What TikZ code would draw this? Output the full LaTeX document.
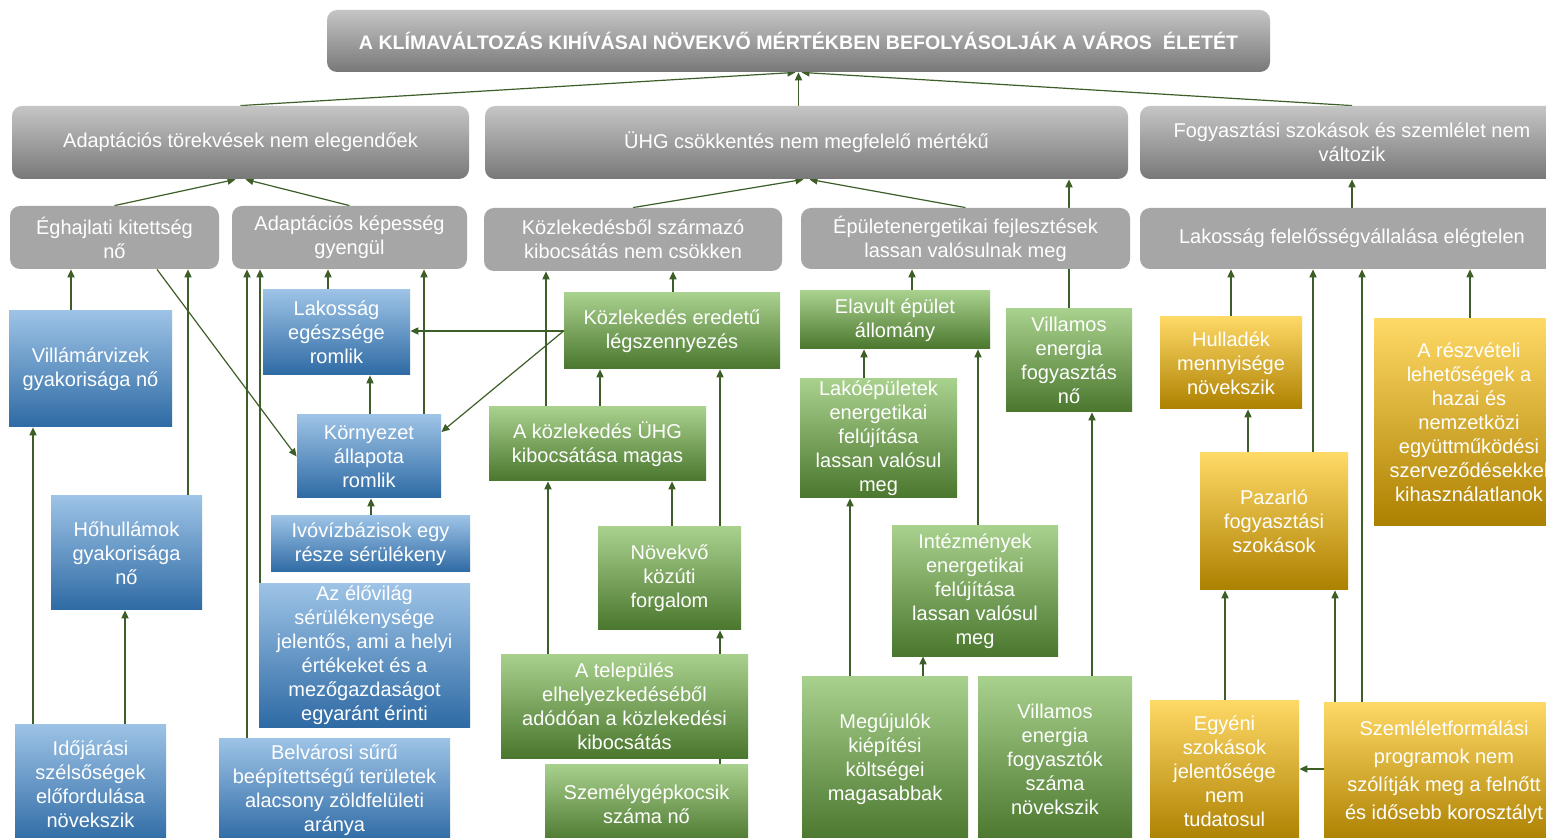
\documentclass[tikz,border=0pt]{standalone}
\usepackage{fontspec}
\setmainfont{Liberation Sans}
\usetikzlibrary{arrows.meta}

\definecolor{arrowGreen}{RGB}{62,94,40}
\definecolor{grayTop}{RGB}{197,197,197}
\definecolor{grayBot}{RGB}{120,120,120}
\definecolor{grayFlat}{RGB}{166,166,166}
\definecolor{blueTop}{RGB}{157,195,230}
\definecolor{blueMid}{RGB}{91,155,213}
\definecolor{blueBot}{RGB}{46,106,164}
\definecolor{greenTop}{RGB}{169,209,142}
\definecolor{greenMid}{RGB}{112,173,71}
\definecolor{greenBot}{RGB}{74,118,45}
\definecolor{yellowTop}{RGB}{255,217,102}
\definecolor{yellowMid}{RGB}{255,192,0}
\definecolor{yellowBot}{RGB}{172,128,0}

\pgfdeclarelayer{background}
\pgfsetlayers{background,main}

\tikzset{
  % area={x1}{y1}{x2}{y2}: box spanning these two corners
  area/.style n args={4}{at={({(#1+#3)/2},{(#2+#4)/2})},
    minimum width={(#3-#1)*0.5pt}, minimum height={(#4-#2)*0.5pt}},
  box/.style={inner sep=0pt, text=white, align=center, font=\fontsize{10}{12}\selectfont},
  titleBox/.style={box, rounded corners=5pt, top color=grayTop, bottom color=grayBot,
    font=\fontsize{9.8}{12}\selectfont\bfseries},
  mainBox/.style={box, rounded corners=5pt, top color=grayTop, bottom color=grayBot},
  subBox/.style={box, rounded corners=5pt, fill=grayFlat},
  blueBox/.style={box, top color=blueTop, middle color=blueMid, bottom color=blueBot},
  greenBox/.style={box, top color=greenTop, middle color=greenMid, bottom color=greenBot},
  yellowBox/.style={box, top color=yellowTop, middle color=yellowMid, bottom color=yellowBot},
  arr/.style={draw=arrowGreen, line width=0.6pt,
    -{Triangle[length=4pt,width=3.6pt,fill=arrowGreen]}},
}

\begin{document}
\begin{tikzpicture}[x=0.5pt,y=-0.5pt]
\clip (0,0) rectangle (1546,838);

% top of the tree
\node[titleBox, area={327}{10}{1270}{72}] (title)
  {A KLÍMAVÁLTOZÁS KIHÍVÁSAI NÖVEKVŐ MÉRTÉKBEN BEFOLYÁSOLJÁK A VÁROS\ \ ÉLETÉT};

% main causes
\node[mainBox, area={12}{106}{469}{179}] (a1) {Adaptációs törekvések nem elegendőek};
\node[mainBox, area={485}{106}{1128}{179}] (a2) {ÜHG csökkentés nem megfelelő mértékű};
\node[mainBox, area={1140}{106}{1564}{179}] (a3) {Fogyasztási szokások és szemlélet nem\\változik};

% second level
\node[subBox, area={10}{206}{219}{269}] (eghajl) {Éghajlati kitettség\\nő};
\node[subBox, area={232}{206}{467}{269}] (adkep) {Adaptációs képesség\\gyengül};
\node[subBox, area={484}{208}{782}{271}] (kozl) {Közlekedésből származó\\kibocsátás nem csökken};
\node[subBox, area={801}{208}{1130}{269}] (epulet) {Épületenergetikai fejlesztések\\lassan valósulnak meg};
\node[subBox, area={1140}{208}{1564}{269}] (lakfel) {Lakosság felelősségvállalása elégtelen};

% adaptation branch
\node[blueBox, area={9}{311}{172}{427}] (villam) {Villámárvizek\\gyakorisága nő};
\node[blueBox, area={51}{496}{202}{610}] (hohull) {Hőhullámok\\gyakorisága\\nő};
\node[blueBox, area={15}{724}{166}{844}] (idojar) {Időjárási\\szélsőségek\\előfordulása\\növekszik};
\node[blueBox, area={263}{290}{410}{375}] (lakeg) {Lakosság\\egészsége\\romlik};
\node[blueBox, area={297}{415}{441}{498}] (kornyez) {Környezet\\állapota\\romlik};
\node[blueBox, area={271}{516}{470}{572}] (ivoviz) {Ivóvízbázisok egy\\része sérülékeny};
\node[blueBox, area={259}{584}{470}{727}] (elovilag)
  {Az élővilág\\sérülékenysége\\jelentős, ami a helyi\\értékeket és a\\mezőgazdaságot\\egyaránt érinti};
\node[blueBox, area={219}{738}{450}{842}] (belvar)
  {Belvárosi sűrű\\beépítettségű területek\\alacsony zöldfelületi\\aránya};

% transport branch
\node[greenBox, area={564}{293}{780}{369}] (legszenny) {Közlekedés eredetű\\légszennyezés};
\node[greenBox, area={489}{407}{706}{481}] (kozluhg) {A közlekedés ÜHG\\kibocsátása magas};
\node[greenBox, area={598}{527}{741}{630}] (novekvo) {Növekvő\\közúti\\forgalom};
\node[greenBox, area={501}{654}{748}{758}] (telepul)
  {A település\\elhelyezkedéséből\\adódóan a közlekedési\\kibocsátás};
\node[greenBox, area={545}{764}{748}{844}] (szemely) {Személygépkocsik\\száma nő};

% building branch
\node[greenBox, area={800}{291}{990}{349}] (elavult) {Elavult épület\\állomány};
\node[greenBox, area={800}{379}{957}{498}] (lakoep) {Lakóépületek\\energetikai\\felújítása\\lassan valósul\\meg};
\node[greenBox, area={892}{526}{1058}{656}] (intezm) {Intézmények\\energetikai\\felújítása\\lassan valósul\\meg};
\node[greenBox, area={1006}{309}{1132}{412}] (villfogy) {Villamos\\energia\\fogyasztás\\nő};
\node[greenBox, area={802}{676}{968}{842}] (megujul) {Megújulók\\kiépítési\\költségei\\magasabbak};
\node[greenBox, area={978}{676}{1132}{842}] (villszam) {Villamos\\energia\\fogyasztók\\száma\\növekszik};

% consumption branch
\node[yellowBox, area={1160}{317}{1302}{409}] (hullad) {Hulladék\\mennyisége\\növekszik};
\node[yellowBox, area={1200}{453}{1348}{590}] (pazarlo) {Pazarló\\fogyasztási\\szokások};
\node[yellowBox, area={1374}{319}{1564}{526}] (reszvet)
  {A részvételi\\lehetőségek a\\hazai és\\nemzetközi\\együttműködési\\szerveződésekkel\\kihasználatlanok};
\node[yellowBox, area={1150}{700}{1299}{842}] (egyeni) {Egyéni\\szokások\\jelentősége\\nem\\tudatosul};
\node[yellowBox, area={1324}{702}{1564}{842}, font=\fontsize{10}{14}\selectfont] (szemlel)
  {Szemléletformálási\\programok nem\\szólítják meg a felnőtt\\és idősebb korosztályt};

\begin{pgfonlayer}{background}
  \fill[white] (0,0) rectangle (1546,838);
  % into the title
  \draw[arr] (a1.north) -- ([xshift=-1.5pt]title.south);
  \draw[arr] (a2.north -| title.south) -- (title.south);
  \draw[arr] (a3.north) -- ([xshift=1.5pt]title.south);
  % into the main causes
  \draw[arr] (eghajl.north) -- ([xshift=-2.5pt]a1.south);
  \draw[arr] (adkep.north) -- ([xshift=2.5pt]a1.south);
  \draw[arr] (kozl.north) -- ([xshift=-1.5pt]a2.south);
  \draw[arr] (epulet.north) -- ([xshift=1.5pt]a2.south);
  \draw[arr] (villfogy.north) -- (villfogy.north |- a2.south);
  \draw[arr] (lakfel.north) -- (lakfel.north |- a3.south);
  % adaptation
  \draw[arr] (villam.north -| 71,0) -- (eghajl.south -| 71,0);
  \draw[arr] (eghajl.south -| 157,0) -- (kornyez.west);
  \draw[arr] (hohull.north -| 188,0) -- (eghajl.south -| 188,0);
  \draw[arr] (idojar.north -| 33,0) -- (villam.south -| 33,0);
  \draw[arr] (idojar.north -| 125,0) -- (hohull.south -| 125,0);
  \draw[arr] (lakeg.north -| 328,0) -- (adkep.south -| 328,0);
  \draw[arr] (kornyez.north -| 370,0) -- (lakeg.south -| 370,0);
  \draw[arr] (kornyez.north -| 424,0) -- (adkep.south -| 424,0);
  \draw[arr] (ivoviz.north -| 371,0) -- (kornyez.south -| 371,0);
  \draw[arr] (elovilag.north -| 260,0) -- (adkep.south -| 260,0);
  \draw[arr] (belvar.north -| 247,0) -- (adkep.south -| 247,0);
  \draw[arr] (legszenny.west) -- (legszenny.west -| lakeg.east);
  \draw[arr] (legszenny.west) -- (kornyez.east |- 0,432);
  % transport
  \draw[arr] (legszenny.north -| 673,0) -- (kozl.south -| 673,0);
  \draw[arr] (kozluhg.north -| 546,0) -- (kozl.south -| 546,0);
  \draw[arr] (kozluhg.north -| 600,0) -- (legszenny.south -| 600,0);
  \draw[arr] (novekvo.north -| 672,0) -- (kozluhg.south -| 672,0);
  \draw[arr] (novekvo.north -| 720,0) -- (legszenny.south -| 720,0);
  \draw[arr] (telepul.north -| 548,0) -- (kozluhg.south -| 548,0);
  \draw[arr] (szemely.north -| 720,0) -- (novekvo.south -| 720,0);
  % buildings
  \draw[arr] (elavult.north -| 912,0) -- (epulet.south -| 912,0);
  \draw[arr] (lakoep.north -| 864,0) -- (elavult.south -| 864,0);
  \draw[arr] (intezm.north -| 978,0) -- (elavult.south -| 978,0);
  \draw[arr] (megujul.north -| 850,0) -- (lakoep.south -| 850,0);
  \draw[arr] (megujul.north -| 923,0) -- (intezm.south -| 923,0);
  \draw[arr] (villszam.north -| 1092,0) -- (villfogy.south -| 1092,0);
  % consumption
  \draw[arr] (hullad.north -| 1231,0) -- (lakfel.south -| 1231,0);
  \draw[arr] (pazarlo.north -| 1248,0) -- (hullad.south -| 1248,0);
  \draw[arr] (pazarlo.north -| 1313,0) -- (lakfel.south -| 1313,0);
  \draw[arr] (reszvet.north -| 1470,0) -- (lakfel.south -| 1470,0);
  \draw[arr] (egyeni.north -| 1225,0) -- (pazarlo.south -| 1225,0);
  \draw[arr] (szemlel.north -| 1335,0) -- (pazarlo.south -| 1335,0);
  \draw[arr] (szemlel.north -| 1362,0) -- (lakfel.south -| 1362,0);
  \draw[arr] (szemlel.west |- 0,769) -- (egyeni.east |- 0,769);
\end{pgfonlayer}
\end{tikzpicture}
\end{document}
